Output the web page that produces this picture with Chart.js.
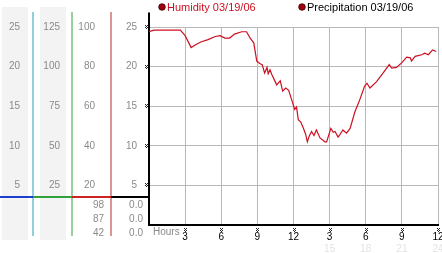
<!DOCTYPE html>
<html><head><meta charset="utf-8">
<script src="https://cdn.jsdelivr.net/npm/chart.js@4.4.0/dist/chart.umd.min.js"></script>
<style>html,body{margin:0;padding:0;background:#fff}#wrap{width:442px;height:253px;position:relative}</style>
</head><body><div id="wrap"><canvas id="c"></canvas></div>
<script>
// humidity trace, hours since midnight
const hours = [0, 0.4, 2.6, 3.0, 3.5, 3.9, 4.3, 4.9, 5.5, 5.9, 6.3, 6.7, 7.1, 7.7, 8.1, 8.4, 8.7, 8.95,
  9.2, 9.4, 9.6, 9.8, 9.9, 10.05, 10.2, 10.6, 10.9, 11.1, 11.35, 11.6, 11.85, 12.1, 12.25, 12.4, 12.6,
  12.8, 13.0, 13.15, 13.3, 13.5, 13.7, 13.9, 14.2, 14.45, 14.6, 14.75, 15.1, 15.3, 15.45, 15.7, 15.85,
  16.1, 16.4, 16.7, 17.1, 17.5, 17.9, 18.1, 18.35, 18.9, 19.45, 19.95, 20.15, 20.55, 21.0, 21.4, 21.7,
  21.8, 22.1, 22.65, 22.9, 23.2, 23.55, 23.85];
const humidity = [24.4, 24.6, 24.6, 23.9, 22.4, 22.8, 23.1, 23.4, 23.8, 23.9, 23.6, 23.6, 24.1, 24.4, 24.4, 23.6, 23.0, 20.7,
  20.4, 20.25, 19.2, 19.9, 19.1, 19.6, 19.0, 17.7, 18.2, 16.9, 17.3, 17.0, 15.8, 14.6, 14.9, 13.3, 13.0,
  12.3, 11.5, 10.5, 11.2, 11.8, 11.3, 12.0, 11.0, 10.7, 10.5, 10.5, 12.2, 11.7, 11.8, 11.1, 11.4,
  12.0, 11.6, 12.2, 14.3, 15.8, 17.5, 17.9, 17.3, 18.1, 19.2, 20.25, 19.8, 19.9, 20.5, 21.2, 21.1,
  20.7, 21.3, 21.5, 21.7, 21.5, 22.1, 21.9];
const precipitation = [];
const seriesNames = ['Humidity 03/19/06', 'Precipitation 03/19/06'];

const xTicks = [3, 6, 9, 12, 15, 18, 21, 24];
const ghostTicks = [15, 18, 21, 24];
const col1Ticks = [5, 10, 15, 20, 25];
const col2Ticks = [25, 50, 75, 100, 125];
const col3Ticks = [20, 40, 60, 80, 100];
const col4Ticks = [5, 10, 15, 20, 25];
const col3Now = [98, 87, 42];
const col4Now = [0, 0, 0];

const FONT = '"Liberation Sans", Arial, sans-serif';
const GRAY = '#8a8a8a';
const GRID = '#b8b8b8';

function setTicks(arr) {
  return s => { s.ticks = arr.map(v => ({ value: v })); };
}
function fitW(w) {
  return s => { s.width = w; s.paddingTop = 0; s.paddingBottom = 0; };
}
function fitH(h) {
  return s => { s.height = h; s.paddingLeft = 0; s.paddingRight = 0; };
}

function mark(ctx, x, y) {
  // little dotted tick glyph
  ctx.fillStyle = '#222';
  [[0,0],[2,0],[1,1],[0,2],[2,2],[1,3]].forEach(p => ctx.fillRect(Math.round(x) - 1 + p[0], Math.round(y) - 2 + p[1], 1, 1));
}

const panels = {
  id: 'panels',
  beforeDraw(chart) {
    const ctx = chart.ctx;
    ctx.save();
    ctx.fillStyle = '#f3f3f3';
    ctx.fillRect(2, 7, 26, 233);
    ctx.fillRect(40, 7, 26, 233);
    ctx.restore();
  },
  afterDraw(chart) {
    const ctx = chart.ctx;
    const s = chart.scales;
    const area = chart.chartArea;
    const lineY = area.bottom - 28;
    ctx.save();

    // column separators
    [[s.c1, '#2f9cb8'], [s.c2, '#2fa33a'], [s.c3, '#bb2a2a']].forEach(([sc, col]) => {
      ctx.fillStyle = col;
      ctx.fillRect(Math.round(sc.right) - 0.5, 12, 1, 224);
    });
    // coloured rule above the current values
    [[0, s.c1.right, '#1d3fcc'], [s.c1.right, s.c2.right, '#2fa33a'],
     [s.c2.right, s.c3.right, '#cc2222'], [s.c3.right, area.left, '#000']].forEach(([a, b, col]) => {
      ctx.fillStyle = col;
      ctx.fillRect(a, lineY - 1, b - a, 2);
    });
    // main axis extends above the grid
    ctx.fillStyle = '#000';
    ctx.fillRect(area.left - 1, 12.5, 2, area.top - 12.5);

    // tick glyphs
    col4Ticks.forEach(v => mark(ctx, area.left - 3, s.y.getPixelForValue(v)));
    xTicks.forEach(v => mark(ctx, s.x.getPixelForValue(v), area.bottom + 5));

    // current values
    ctx.font = '10px ' + FONT;
    ctx.fillStyle = GRAY;
    ctx.textAlign = 'right';
    ctx.textBaseline = 'middle';
    col3Now.forEach((v, i) => ctx.fillText(String(v), s.c3.right - 7, lineY + 8 + i * 14));
    col4Now.forEach((v, i) => ctx.fillText(v.toFixed(1), area.left - 6, lineY + 8 + i * 14));

    // Hours caption
    ctx.textAlign = 'left';
    ctx.fillText('Hours', area.left + 4, area.bottom + 7);

    // legend
    ctx.font = '11px ' + FONT;
    const legend = [[162, '#cc1122'], [302, '#000']];
    legend.forEach(([x, col], i) => {
      ctx.beginPath();
      ctx.arc(x, 7, 3.3, 0, Math.PI * 2);
      ctx.fillStyle = '#a00010';
      ctx.fill();
      ctx.lineWidth = 0.8;
      ctx.strokeStyle = '#3a0000';
      ctx.stroke();
      ctx.fillStyle = col;
      ctx.fillText(seriesNames[i], x + 5, 7.5);
    });
    ctx.restore();
  }
};

const leftAxis = (ticks, max, w, pad, weight) => ({
  type: 'linear', position: 'left', min: 0, max, weight,
  afterBuildTicks: setTicks(ticks), afterFit: fitW(w),
  grid: { display: false, drawTicks: false },
  border: { display: false },
  ticks: { padding: pad, color: GRAY, font: { family: FONT, size: 10 } }
});

new Chart(document.getElementById('c'), {
  type: 'line',
  data: {
    datasets: [
      { label: seriesNames[0], data: hours.map((h, i) => ({ x: h, y: humidity[i] })),
        borderColor: '#cc1020', borderWidth: 1.2, pointRadius: 0, tension: 0, xAxisID: 'x', yAxisID: 'y' },
      { label: seriesNames[1], data: precipitation, borderColor: '#000', pointRadius: 0, xAxisID: 'x', yAxisID: 'y' }
    ]
  },
  options: {
    responsive: true, maintainAspectRatio: false, animation: false,
    layout: { padding: { top: 27, right: 4, left: 0, bottom: 0 } },
    plugins: { legend: { display: false }, tooltip: { enabled: false } },
    scales: {
      x: {
        type: 'linear', position: 'bottom', min: 0, max: 24, weight: 0,
        afterBuildTicks: setTicks(xTicks), afterFit: fitH(18),
        grid: { color: GRID, drawTicks: false },
        border: { color: '#000', width: 2 },
        ticks: { padding: 6, color: '#000', maxRotation: 0, font: { family: FONT, size: 10 },
          callback: v => (v % 12) || 12 }
      },
      xg: {
        type: 'linear', position: 'bottom', min: 0, max: 24, weight: 1,
        afterBuildTicks: setTicks(ghostTicks), afterFit: fitH(10),
        grid: { display: false, drawTicks: false },
        border: { display: false },
        ticks: { padding: 0, color: '#e4e4e4', maxRotation: 0, font: { family: FONT, size: 10 } }
      },
      y: {
        type: 'linear', position: 'left', min: 0, max: 25, weight: 1,
        afterBuildTicks: setTicks(col4Ticks), afterFit: fitW(38),
        grid: { color: GRID, drawTicks: false },
        border: { color: '#000', width: 2 },
        ticks: { padding: 12, color: GRAY, font: { family: FONT, size: 10 } }
      },
      c3: leftAxis(col3Ticks, 100, 39, 16, 2),
      c2: leftAxis(col2Ticks, 125, 39, 12, 3),
      c1: leftAxis(col1Ticks, 25, 33, 13, 4)
    }
  },
  plugins: [panels]
});
</script>
</body></html>
